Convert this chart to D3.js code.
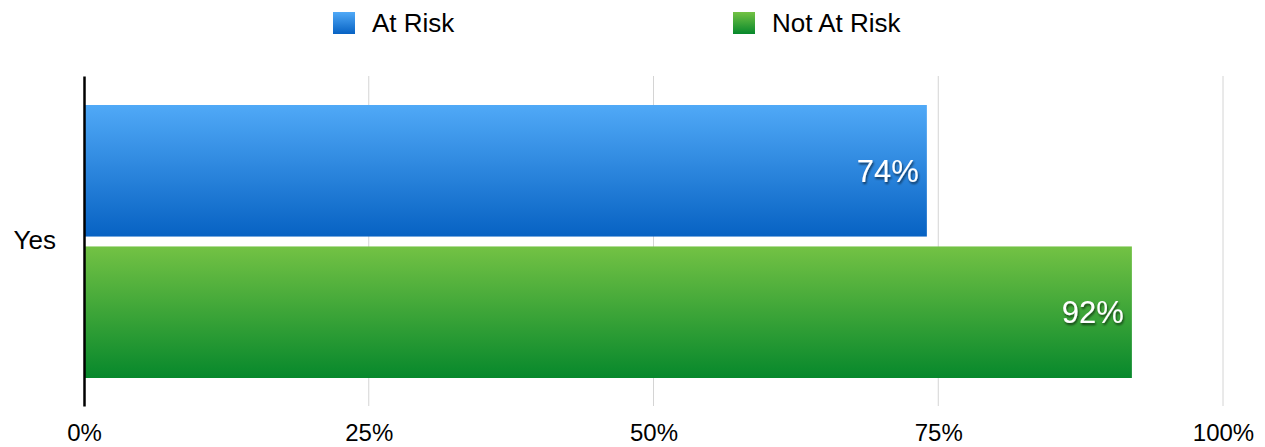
<!DOCTYPE html>
<html>
<head>
<meta charset="utf-8">
<script src="https://cdn.jsdelivr.net/npm/d3@7"></script>
<style>
  body { margin: 0; background: #fff; }
  text { font-family: "Liberation Sans", Arial, sans-serif; }
</style>
</head>
<body>
<div id="chart"></div>
<script>
var categories = ["Yes"];
var seriesNames = ["At Risk", "Not At Risk"];
var atRisk = [74];
var notAtRisk = [92];
var xTicks = [0, 25, 50, 75, 100];

var width = 1265, height = 447;
var margin = { top: 76, right: 42, bottom: 41, left: 84 };

var svg = d3.select("#chart").append("svg")
  .attr("width", width)
  .attr("height", height);

var defs = svg.append("defs");
var grads = [
  { id: "gBlue", top: "#50a9f7", bottom: "#0762c3" },
  { id: "gGreen", top: "#73c244", bottom: "#07882c" }
];
grads.forEach(function (g) {
  var lg = defs.append("linearGradient").attr("id", g.id)
    .attr("x1", 0).attr("y1", 0).attr("x2", 0).attr("y2", 1);
  lg.append("stop").attr("offset", "0%").attr("stop-color", g.top);
  lg.append("stop").attr("offset", "100%").attr("stop-color", g.bottom);
});
var f = defs.append("filter").attr("id", "shadow")
  .attr("x", "-20%").attr("y", "-20%").attr("width", "140%").attr("height", "160%");
f.append("feDropShadow").attr("dx", 1).attr("dy", 2).attr("stdDeviation", 1.2)
  .attr("flood-color", "#000").attr("flood-opacity", 0.6);

var x = d3.scaleLinear().domain([0, 100]).range([margin.left, width - margin.right]);
var y0 = d3.scaleBand().domain(categories).range([margin.top, height - margin.bottom]).padding(0);
// bars sit inside the category band, more space above than below
var y1 = d3.scaleBand().domain(seriesNames).range([29, y0.bandwidth() - 28])
  .paddingInner(0.07).paddingOuter(0);

// gridlines
svg.append("g").selectAll("line")
  .data(xTicks.filter(function (d) { return d > 0; }))
  .join("line")
  .attr("x1", function (d) { return x(d); })
  .attr("x2", function (d) { return x(d); })
  .attr("y1", margin.top)
  .attr("y2", height - margin.bottom)
  .attr("stroke", "#d4d4d4")
  .attr("stroke-width", 1);

// x axis labels
var xAxis = d3.axisBottom(x).tickValues(xTicks)
  .tickFormat(function (d) { return d + "%"; })
  .tickSize(0).tickPadding(18);
var gx = svg.append("g")
  .attr("transform", "translate(0," + (height - margin.bottom) + ")")
  .call(xAxis);
gx.select(".domain").remove();
gx.selectAll("text").attr("font-size", 24).attr("fill", "#000")
  .attr("font-family", "Liberation Sans, Arial, sans-serif");

// bars
var values = [atRisk, notAtRisk];
var fills = ["url(#gBlue)", "url(#gGreen)"];
categories.forEach(function (cat, ci) {
  var g = svg.append("g").attr("transform", "translate(0," + y0(cat) + ")");
  var rows = seriesNames.map(function (s, si) {
    return { name: s, value: values[si][ci], fill: fills[si] };
  });
  g.selectAll("rect").data(rows).join("rect")
    .attr("x", x(0))
    .attr("y", function (d) { return y1(d.name); })
    .attr("width", function (d) { return x(d.value) - x(0); })
    .attr("height", y1.bandwidth())
    .attr("fill", function (d) { return d.fill; });
  g.selectAll("text.val").data(rows).join("text")
    .attr("class", "val")
    .attr("x", function (d) { return x(d.value) - 8; })
    .attr("y", function (d) { return y1(d.name) + y1.bandwidth() / 2; })
    .attr("dy", "0.35em")
    .attr("text-anchor", "end")
    .attr("font-size", 31)
    .attr("fill", "#fff")
    .attr("filter", "url(#shadow)")
    .text(function (d) { return d.value + "%"; });
});

// y axis
var yAxis = d3.axisLeft(y0).tickSize(0).tickPadding(28);
var gy = svg.append("g").attr("transform", "translate(" + margin.left + ",0)").call(yAxis);
gy.select(".domain").attr("stroke", "#000").attr("stroke-width", 2.5);
gy.selectAll("text").attr("font-size", 26).attr("fill", "#000")
  .attr("font-family", "Liberation Sans, Arial, sans-serif");

// legend
var legendX = [333, 733];
var legend = svg.append("g").selectAll("g").data(seriesNames).join("g")
  .attr("transform", function (d, i) { return "translate(" + legendX[i] + ",12)"; });
legend.append("rect").attr("width", 22).attr("height", 22)
  .attr("fill", function (d, i) { return fills[i]; });
legend.append("text").attr("x", 39).attr("y", 11).attr("dy", "0.36em")
  .attr("font-size", 26).attr("fill", "#000")
  .text(function (d) { return d; });
</script>
</body>
</html>
